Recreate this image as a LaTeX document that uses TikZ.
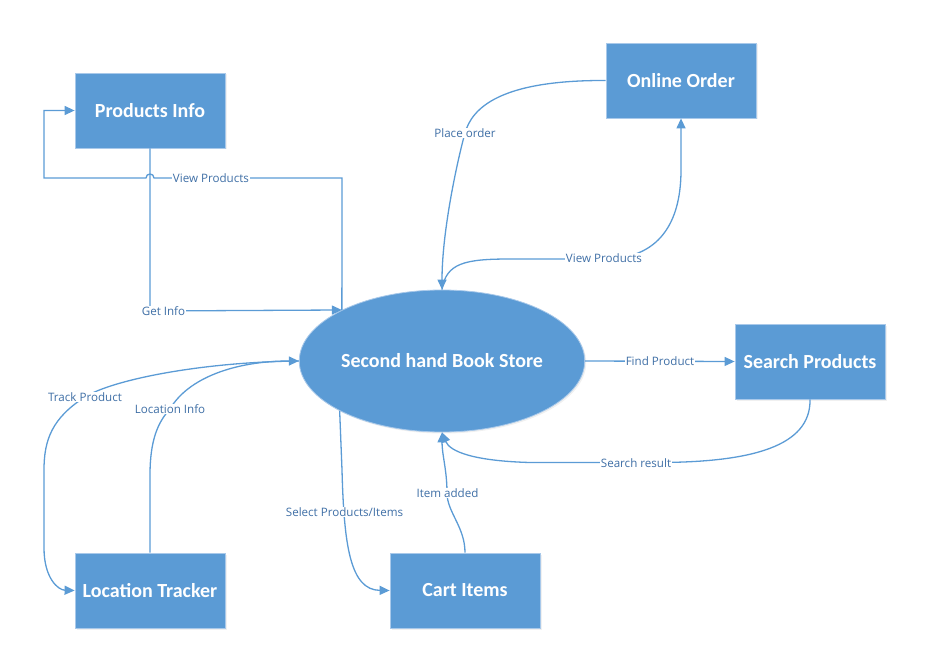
\documentclass[tikz,border=0pt]{standalone}
\usepackage{fontspec}
\setmainfont{Carlito}
\newfontfamily\lblfont{Open Sans}
\usetikzlibrary{arrows.meta,shapes.geometric,shadows}
\definecolor{boxblue}{HTML}{5B9BD5}
\definecolor{boxedge}{HTML}{A9C9EA}
\definecolor{lbltext}{HTML}{3F6FA6}
\begin{document}
\begin{tikzpicture}[x=1pt,y=-1pt,
  procbox/.style={rectangle, fill=boxblue, draw=boxedge, line width=0.8pt,
    minimum width=150pt, minimum height=75pt, inner sep=0pt, text=white,
    font=\fontsize{20}{24}\selectfont\bfseries,
    drop shadow={shadow xshift=1.5pt, shadow yshift=-1.5pt, opacity=0.12}},
  storeell/.style={ellipse, fill=boxblue, draw=boxedge, line width=0.8pt,
    minimum width=284pt, minimum height=142pt, inner sep=0pt, text=white,
    font=\fontsize{20}{24}\selectfont\bfseries,
    drop shadow={shadow xshift=1.5pt, shadow yshift=-1.5pt, opacity=0.12}},
  flow/.style={draw=boxblue, line width=1.3pt,
    -{Triangle[length=10pt,width=9pt]}},
  lbl/.style={font=\lblfont\fontsize{11.6}{13}\selectfont, text=lbltext,
    fill=white, inner sep=1pt}
]
\useasboundingbox (0,0) rectangle (925,671);

\node[procbox] (PI) at (150,110.5) {Products Info};
\node[procbox] (OO) at (681,80.5) {Online Order};
\node[procbox] (SP) at (810,361.5) {Search Products};
\node[procbox] (LT) at (150,590.5) {Location Tracker};
\node[procbox] (CI) at (465,590.5) {Cart Items};
\node[storeell] (E) at (442,361) {Second hand Book Store};

% Get Info
\draw[flow] (PI.south) -- (150,311) -- (E.153.4);
% View Products (loop to Products Info, with hop)
\draw[flow] (E.153.4) -- (342,178) -- (154,178)
  .. controls (154,172.7) and (146,172.7) .. (146,178)
  -- (44,178) -- (44,110.5) -- (PI.west);
% Place order
\draw[flow] (OO.west) .. controls (500,80) and (472,108) .. (465,133)
  .. controls (458,158) and (442,230) .. (E.north);
% View Products (to Online Order)
\draw[flow] (E.north) .. controls (446,263) and (465,259) .. (510,259)
  -- (604,259) .. controls (665,259) and (681,215) .. (681,170) -- (OO.south);
% Find Product
\draw[flow] (E.east) -- (SP.west);
% Search result
\draw[flow] (SP.south) .. controls (811,447) and (750,462) .. (660,462.5)
  -- (530,462.5) .. controls (475,461) and (450,452) .. (E.south);
% Item added
\draw[flow] (CI.north) .. controls (465,527) and (447,512) .. (447,493)
  .. controls (447,470) and (442,455) .. (E.south);
% Select Products/Items
\draw[flow] (E.206.6) -- (342,470) .. controls (344,545) and (350,590) .. (CI.west);
% Track Product
\draw[flow] (E.west) .. controls (200,362) and (112,380) .. (85,397)
  .. controls (52,418) and (44,440) .. (44,470) -- (44,548)
  .. controls (44,578) and (58,590) .. (LT.west);
% Location Info
\draw[flow] (LT.north) -- (150,475) .. controls (150,440) and (158,422) .. (170,409)
  .. controls (188,378) and (235,361) .. (E.west);

% labels
\node[lbl] (lgi) at (163.5,311) {Get Info};
\node[lbl] (lvp1) at (211,178) {View Products};
\node[lbl] (lpo) at (465,133) {Place order};
\node[lbl] (lvp2) at (604,258) {View Products};
\node[lbl] (lfp) at (660,361) {Find Product};
\node[lbl] (lsr) at (636,463) {Search result};
\node[lbl] (lia) at (447.5,493) {Item added};
\node[lbl] (lsp) at (344.5,512) {Select Products/Items};
\node[lbl] (ltp) at (85,397) {Track Product};
\node[lbl] (lli) at (170,409) {Location Info};
\end{tikzpicture}
\end{document}
